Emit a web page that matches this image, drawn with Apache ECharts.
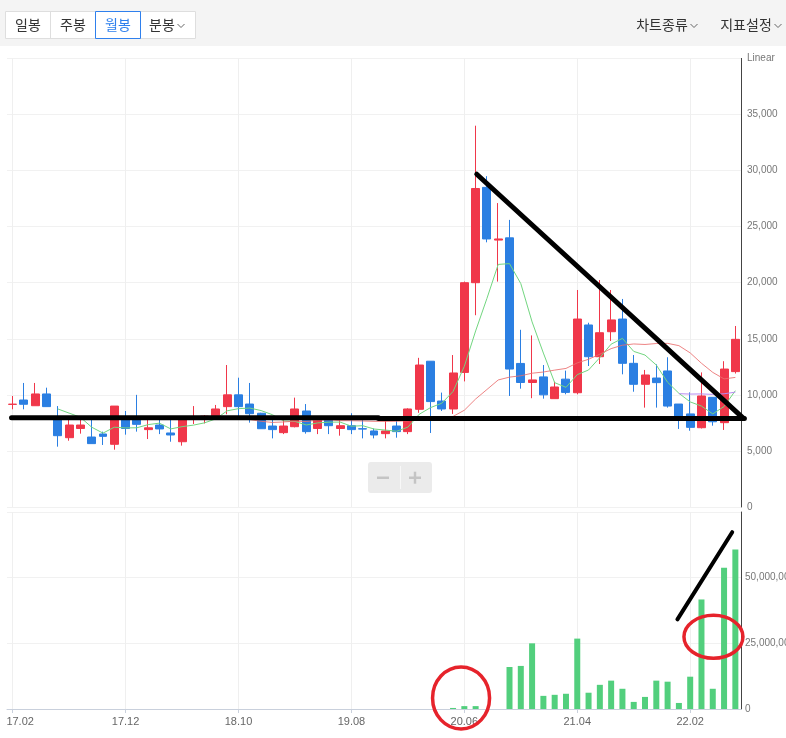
<!DOCTYPE html>
<html><head><meta charset="utf-8">
<script src="https://cdn.jsdelivr.net/npm/echarts@6/dist/echarts.min.js"></script>
<style>html,body{margin:0;padding:0;background:#fff}#c{width:786px;height:738px}</style>
</head><body><div id="c"></div>
<script>
// ---- data (monthly, 17.02 .. 22.06) ----
const categories = ['17.02','17.03','17.04','17.05','17.06','17.07','17.08','17.09','17.10','17.11','17.12',
'18.01','18.02','18.03','18.04','18.05','18.06','18.07','18.08','18.09','18.10','18.11','18.12',
'19.01','19.02','19.03','19.04','19.05','19.06','19.07','19.08','19.09','19.10','19.11','19.12',
'20.01','20.02','20.03','20.04','20.05','20.06','20.07','20.08','20.09','20.10','20.11','20.12',
'21.01','21.02','21.03','21.04','21.05','21.06','21.07','21.08','21.09','21.10','21.11','21.12',
'22.01','22.02','22.03','22.04','22.05','22.06'];
const openP  = [9150,9540,9030,10080,8000,6180,7000,6240,6510,5590,8000,8000,6900,7310,6600,5820,7900,7850,8000,8950,10000,9180,8360,7220,6630,7160,8560,7000,7900,7000,7250,6980,6780,6540,7220,6720,8710,13000,9450,8740,12000,20000,28500,23800,24000,12800,11100,11600,9660,11400,10190,16230,13400,15630,16760,12810,10940,11500,12130,9180,8300,7070,9780,7520,12070];
const closeP = [9170,9160,10080,8950,6360,7310,7310,5650,6300,9000,7000,7370,7060,6960,6420,8000,8050,8100,8740,10000,8950,8320,6980,6900,7220,8740,6720,7900,7250,7250,6900,6950,6420,6780,6720,8740,12660,9400,8740,11950,20000,28400,23900,23900,12300,11100,11330,10000,10700,10220,16760,13400,15540,16680,12810,10940,11770,11090,9000,7900,7100,9900,7600,12300,14950];
const lowP   = [8710,8710,9030,8950,5380,5910,6540,5650,5530,5110,6450,6720,6060,6500,5820,5470,7400,7450,8000,8270,8000,7520,6980,6120,6500,7100,6540,6500,6500,6360,6500,6120,6120,6120,6180,6500,8400,6600,8560,8300,11200,17100,23600,20100,9900,10550,9700,9660,9660,10050,10050,12570,12750,14800,11830,10280,8860,8860,8860,6960,6800,7000,7250,6870,11900];
const highP  = [9900,11060,11060,10640,9000,7760,7760,7760,6720,9000,8560,10000,7760,7820,7760,8000,9000,8200,9100,12660,11530,11060,8400,7760,7760,9750,9180,8000,8100,7760,8360,7760,7000,7760,7900,8800,13300,13000,10200,13550,20100,34000,29500,27100,25600,15800,15300,12660,11170,12160,19350,16430,20240,19350,18550,13550,12220,12720,13350,9180,10220,12000,9800,13000,16140];
const volume = [null,null,null,null,null,null,null,null,null,null,null,null,null,null,null,null,null,null,null,null,
null,null,null,null,null,null,null,null,null,null,null,null,null,null,null,null,null,null,null,
400000,1100000,1100000,null,null,16000000,16400000,25000000,5000000,5400000,5800000,26800000,6200000,9200000,10800000,7700000,2700000,4600000,10800000,10400000,2300000,12300000,41700000,7700000,53800000,60700000];
const axisMonths = ['17.02','17.12','18.10','19.08','20.06','21.04','22.02'];
const maPeriods = [5, 20, 60];
// hand-drawn annotations, in data space: [category index, value]
const annoPriceLines = [[[-0.1,7960],[32.4,7960]], [[32.4,7890],[64.8,7890]], [[41.1,29670],[64.72,7910]]];
const annoVolumeLine = [[58.87,34100000],[63.72,67300000]];
const annoCircles = [[39.71,4200000],[62.06,27500000]];

const RED = '#f0374a', BLUE = '#2b7fe2';
const maColors = ['#72d680', 'rgba(234,110,110,0.85)', '#b88cf2'];

function movingAverage(n) {
  return closeP.map((c, i) => {
    if (i < n - 1) return '-';
    let s = 0;
    for (let k = i - n + 1; k <= i; k++) s += closeP[k];
    return Math.round(s / n);
  });
}
const fmt = v => String(v).replace(/\B(?=(\d{3})+(?!\d))/g, ',');
const showMonth = (idx, val) => axisMonths.indexOf(val) >= 0 || axisMonths.indexOf(categories[idx]) >= 0;
const numFont = 'Liberation Sans';

const chart = echarts.init(document.getElementById('c'));
const option = {
  animation: false,
  backgroundColor: '#fff',
  grid: [
    {left: 7, right: 45, top: 58.4, height: 448.6, containLabel: false, outerBoundsMode: 'none'},
    {left: 7, right: 45, top: 512, height: 197, containLabel: false, outerBoundsMode: 'none'}
  ],
  xAxis: [
    {type: 'category', gridIndex: 0, data: categories, boundaryGap: true,
     axisLine: {show: false}, axisTick: {show: false}, axisLabel: {show: false},
     splitLine: {show: true, interval: showMonth, alignWithLabel: true, lineStyle: {color: '#efefef'}}},
    {type: 'category', gridIndex: 1, data: categories, boundaryGap: true,
     axisLine: {lineStyle: {color: '#c9d0dc'}},
     axisTick: {show: true, interval: showMonth, alignWithLabel: true, length: 4, lineStyle: {color: '#c9d0dc'}},
     axisLabel: {interval: showMonth, color: '#666', fontSize: 11, fontFamily: numFont, margin: 7,
       formatter: (v) => v === categories[0] ? '{first|' + v + '}' : v,
       rich: {first: {padding: [0, 0, 0, 15], color: '#666', fontSize: 11, fontFamily: numFont}}},
     splitLine: {show: true, interval: showMonth, alignWithLabel: true, lineStyle: {color: '#efefef'}}}
  ],
  yAxis: [
    {type: 'value', gridIndex: 0, position: 'right', min: 0, max: 40000, interval: 5000,
     axisLine: {show: true, lineStyle: {color: '#444'}}, axisTick: {show: false},
     axisLabel: {formatter: v => v === 40000 ? 'Linear' : fmt(v), color: '#777', fontSize: 10, fontFamily: numFont, margin: 6},
     splitLine: {lineStyle: {color: '#f1f1f1'}}},
    {type: 'value', gridIndex: 1, position: 'right', min: 0, max: 75000000, interval: 25000000,
     axisLine: {show: true, lineStyle: {color: '#444'}}, axisTick: {show: false},
     axisLabel: {showMaxLabel: false, formatter: fmt, color: '#777', fontSize: 10, fontFamily: numFont, margin: 4},
     splitLine: {lineStyle: {color: '#f1f1f1'}}}
  ],
  series: [
    {type: 'candlestick', xAxisIndex: 0, yAxisIndex: 0, barWidth: '75%',
     data: categories.map((c, i) => [openP[i], closeP[i], lowP[i], highP[i]]),
     itemStyle: {color: RED, color0: BLUE, borderColor: RED, borderColor0: BLUE, borderWidth: 1}}
  ].concat(maPeriods.map((n, k) => ({
     type: 'line', xAxisIndex: 0, yAxisIndex: 0, data: movingAverage(n), symbol: 'none',
     lineStyle: {color: maColors[k], width: 1}, itemStyle: {color: maColors[k]}
  }))).concat([
    {type: 'bar', xAxisIndex: 1, yAxisIndex: 1, data: volume, barWidth: 6, itemStyle: {color: '#52cf7d'}}
  ])
};
chart.setOption(option);

// ---- toolbar (UI chrome) ----
const kr = '14px "Noto Sans CJK KR"';
function txt(t, x, y, color) {
  return {type: 'text', z: 3, style: {text: t, x: x, y: y, font: kr, fill: color || '#333',
          align: 'center', verticalAlign: 'middle', textAlign: 'center', textVerticalAlign: 'middle'}};
}
function chevron(x, y) {
  return {type: 'polyline', z: 3, shape: {points: [[x, y], [x + 3.5, y + 3.5], [x + 7, y]]},
          style: {stroke: '#666', lineWidth: 1, fill: null}};
}
const toolbar = [
  {type: 'rect', z: 1, shape: {x: 0, y: 0, width: 786, height: 46}, style: {fill: '#f4f4f4'}},
  {type: 'rect', z: 2, shape: {x: 5.5, y: 11.5, width: 190, height: 27}, style: {fill: '#fff', stroke: '#dedede', lineWidth: 1}},
  {type: 'line', z: 2, shape: {x1: 50.5, y1: 11.5, x2: 50.5, y2: 38.5}, style: {stroke: '#dedede', lineWidth: 1}},
  {type: 'line', z: 2, shape: {x1: 140.5, y1: 11.5, x2: 140.5, y2: 38.5}, style: {stroke: '#dedede', lineWidth: 1}},
  {type: 'rect', z: 3, shape: {x: 95.5, y: 11.5, width: 45, height: 27}, style: {fill: '#fff', stroke: '#2f80ed', lineWidth: 1}},
  txt('일봉', 28, 25), txt('주봉', 73, 25), txt('월봉', 118, 25, '#2f80ed'), txt('분봉', 162, 25), chevron(177.5, 24),
  txt('차트종류', 662, 25), chevron(690.5, 24),
  txt('지표설정', 746, 25), chevron(774.5, 24),
  // zoom (- / +) control
  {type: 'rect', z: 3, shape: {x: 368, y: 462, width: 64, height: 31, r: 3}, style: {fill: '#ebebeb'}},
  {type: 'line', z: 4, shape: {x1: 400.5, y1: 466, x2: 400.5, y2: 489}, style: {stroke: '#f8f8f8', lineWidth: 1}},
  {type: 'rect', z: 4, shape: {x: 377, y: 476.5, width: 12, height: 2.5}, style: {fill: '#c4c4c4'}},
  {type: 'rect', z: 4, shape: {x: 409, y: 476.5, width: 12, height: 2.5}, style: {fill: '#c4c4c4'}},
  {type: 'rect', z: 4, shape: {x: 413.75, y: 471.7, width: 2.5, height: 12}, style: {fill: '#c4c4c4'}}
];

// ---- annotations positioned through the chart's own axes ----
const x0 = chart.convertToPixel({xAxisIndex: 0}, categories[0]);
const step = chart.convertToPixel({xAxisIndex: 0}, categories[1]) - x0;
const px = i => x0 + step * i;
const pyP = v => chart.convertToPixel({yAxisIndex: 0}, v);
const pyV = v => chart.convertToPixel({yAxisIndex: 1}, v);
const annos = [];
annoPriceLines.forEach(seg => annos.push({type: 'line', z: 100,
  shape: {x1: px(seg[0][0]), y1: pyP(seg[0][1]), x2: px(seg[1][0]), y2: pyP(seg[1][1])},
  style: {stroke: '#000', lineWidth: 5, lineCap: 'round'}}));
annos.push({type: 'line', z: 100,
  shape: {x1: px(annoVolumeLine[0][0]), y1: pyV(annoVolumeLine[0][1]), x2: px(annoVolumeLine[1][0]), y2: pyV(annoVolumeLine[1][1])},
  style: {stroke: '#000', lineWidth: 4, lineCap: 'round'}});
const circleR = [[28.5, 31], [29.5, 21.5]];
annoCircles.forEach((c, k) => annos.push({type: 'ellipse', z: 100,
  shape: {cx: px(c[0]), cy: pyV(c[1]), rx: circleR[k][0], ry: circleR[k][1]},
  style: {stroke: '#e6232b', lineWidth: 3.5, fill: null}}));

chart.setOption({graphic: toolbar.concat(annos)});
</script>
</body></html>
